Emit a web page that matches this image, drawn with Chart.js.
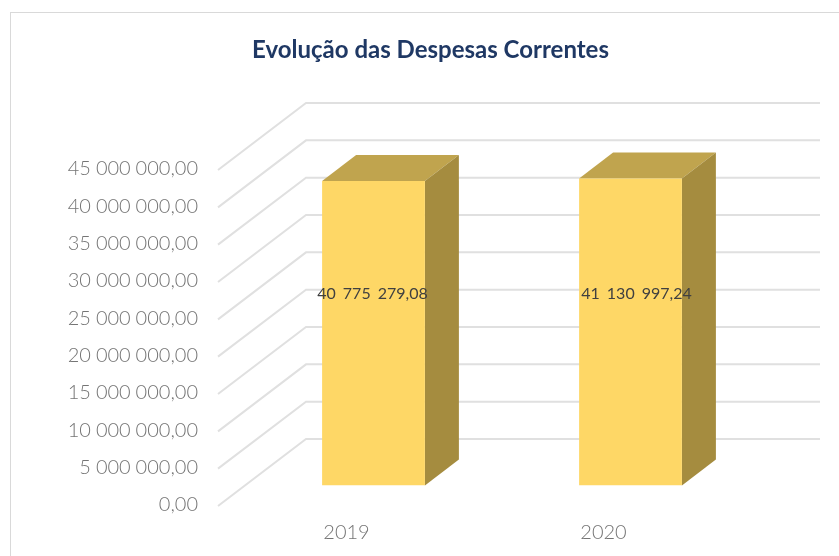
<!DOCTYPE html>
<html>
<head>
<meta charset="utf-8">
<title>Evolução das Despesas Correntes</title>
<script src="https://cdn.jsdelivr.net/npm/chart.js@4"></script>
<style>
  html, body { margin: 0; padding: 0; background: #fff; overflow: hidden; }
  #frame { position: absolute; left: 10px; top: 12px; width: 829px; height: 544px; border-top: 1px solid #d9d9d9; border-left: 1px solid #d9d9d9; box-sizing: border-box; }
  #wrap { position: absolute; left: 0; top: 0; width: 839px; height: 556px; }
</style>
</head>
<body>
<div id="frame"></div>
<div id="wrap"><canvas id="myChart" width="839" height="556"></canvas></div>
<script>
const categories = ["2019", "2020"];
const despesas = [40775279.08, 41130997.24];
const yMax = 45000000;
const yStep = 5000000;

// back wall is this far from the front axis plane
const wallDx = 88;
const wallDy = -67;
// bars stand part way in, and have this much depth
const barDx = 27;
const barDy = -20.5;
const depthDx = 34;
const depthDy = -26;
const labelShift = [-1, 6];
const labelY = 294;
const titleShift = 53;

function money(v) {
  const parts = v.toFixed(2).split(".");
  return parts[0].replace(/\B(?=(\d{3})+$)/g, " ") + "," + parts[1];
}

const fake3d = {
  id: "fake3d",
  afterLayout(chart) {
    // title sits over the whole 3d box, not the front plane
    chart.titleBlock.left += titleShift;
    chart.titleBlock.right += titleShift;

    // tick labels have slightly narrower gaps between the digit groups
    const yAxis = chart.scales.y;
    const drawLabels = yAxis.drawLabels;
    yAxis.drawLabels = function (area) {
      chart.ctx.save();
      chart.ctx.wordSpacing = "-0.5px";
      drawLabels.call(this, area);
      chart.ctx.restore();
    };
  },
  beforeDatasetsDraw(chart) {
    const { ctx, chartArea, scales } = chart;
    ctx.save();
    ctx.strokeStyle = "#e0e0e0";
    ctx.lineWidth = 2;
    scales.y.ticks.forEach((t) => {
      const y = scales.y.getPixelForValue(t.value);
      ctx.beginPath();
      ctx.moveTo(chartArea.left, y);
      ctx.lineTo(chartArea.left + wallDx, y + wallDy);
      ctx.lineTo(chartArea.right + wallDx, y + wallDy);
      ctx.stroke();
    });
    ctx.restore();

    // everything in the dataset moves back to the middle of the floor
    ctx.save();
    ctx.translate(barDx, barDy);
  },
  beforeDatasetDraw(chart, args) {
    const { ctx } = chart;
    args.meta.data.forEach((bar) => {
      const left = bar.x - bar.width / 2;
      const right = bar.x + bar.width / 2;
      ctx.fillStyle = "#c0a44e";
      ctx.beginPath();
      ctx.moveTo(left, bar.y);
      ctx.lineTo(left + depthDx, bar.y + depthDy);
      ctx.lineTo(right + depthDx, bar.y + depthDy);
      ctx.lineTo(right, bar.y);
      ctx.closePath();
      ctx.fill();
      ctx.fillStyle = "#a58c3f";
      ctx.beginPath();
      ctx.moveTo(right, bar.y);
      ctx.lineTo(right + depthDx, bar.y + depthDy);
      ctx.lineTo(right + depthDx, bar.base + depthDy);
      ctx.lineTo(right, bar.base);
      ctx.closePath();
      ctx.fill();
    });
  },
  afterDatasetsDraw(chart) {
    const { ctx } = chart;
    ctx.restore();
    ctx.save();
    ctx.fillStyle = "#404040";
    ctx.font = "16px Lato";
    ctx.wordSpacing = "3px";
    ctx.textAlign = "center";
    ctx.textBaseline = "middle";
    chart.getDatasetMeta(0).data.forEach((bar, i) => {
      ctx.fillText(money(despesas[i]), bar.x + barDx + labelShift[i], labelY);
    });
    ctx.restore();
  },
};

const config = {
  type: "bar",
  data: {
    labels: categories,
    datasets: [
      {
        label: "Despesas Correntes",
        data: despesas,
        backgroundColor: "#fed766",
        barPercentage: 0.4,
        categoryPercentage: 1,
      },
    ],
  },
  options: {
    responsive: false,
    animation: false,
    layout: { padding: { left: 23, right: 107, top: 0, bottom: 0 } },
    plugins: {
      legend: { display: false },
      tooltip: { enabled: false },
      title: {
        display: true,
        text: "Evolução das Despesas Correntes",
        color: "#1f3864",
        font: { family: "Lato", size: 24, weight: "bold" },
        padding: { top: 36, bottom: 105.2 },
      },
    },
    scales: {
      x: {
        grid: { display: false },
        border: { display: false },
        afterFit(scale) {
          scale.height = 50;
        },
        ticks: {
          color: "#757575",
          padding: 7,
          font: { family: "Lato", size: 20, weight: 300 },
        },
      },
      y: {
        min: 0,
        max: yMax,
        grid: { display: false },
        border: { display: false },
        afterFit(scale) {
          scale.width = 195;
        },
        ticks: {
          stepSize: yStep,
          color: "#757575",
          padding: 12,
          labelOffset: -1,
          font: { family: "Lato", size: 20, weight: 300 },
          callback: (v) => money(v),
        },
      },
    },
  },
  plugins: [fake3d],
};
const myChart = new Chart(document.getElementById("myChart"), config);
</script>
</body>
</html>
